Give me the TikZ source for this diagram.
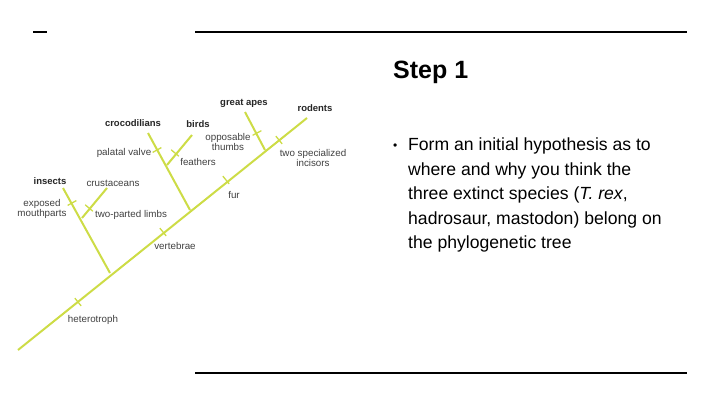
\documentclass[tikz,border=0pt]{standalone}
\usepackage{fontspec}
\setmainfont{Liberation Sans}
\begin{document}
\begin{tikzpicture}[x=1pt,y=-1pt,
  lab/.style={font=\fontsize{9.8}{10.5}\selectfont,text=black!75,inner sep=0pt,align=center},
  blab/.style={lab,font=\fontsize{9.5}{10}\selectfont\bfseries,text=black!85},
  rule/.style={draw=black,line width=2.5pt}]
\definecolor{lg}{RGB}{205,220,70}
\tikzset{br/.style={draw=lg,line width=2pt}}
\useasboundingbox (0,0) rectangle (720,405);
\coordinate (r0) at (18,350); \coordinate (r1) at (307,118);
\coordinate (ib) at (110,273); \coordinate (ie) at (63,188);
\coordinate (cb) at (82,218); \coordinate (ce) at (107,188);
\coordinate (kb) at (190,210); \coordinate (ke) at (148,133);
\coordinate (bb) at (167,165); \coordinate (be) at (192,135);
\coordinate (gb) at (265,150); \coordinate (ge) at (245,112);
\draw[br] (r0) -- (r1);
\draw[br] (ib) -- (ie); \draw[br] (cb) -- (ce);
\draw[br] (kb) -- (ke); \draw[br] (bb) -- (be);
\draw[br] (gb) -- (ge);
% ticks
\foreach \p/\a in {{(78,302)}/51,{(163,232)}/51,{(226,180)}/51,{(279,140)}/51,
  {(257,133)}/-28,{(175,153)}/40,{(157,150)}/-29,{(72,203)}/-29,{(89,208)}/40}
  {\draw[br,line width=1.3pt] \p ++(\a:-5) -- ++(\a:10);}
\node[lab] (h) at (93,320) {heterotroph};
\node[lab] (v) at (175,246) {vertebrae};
\node[lab] (f) at (234,195) {fur};
\node[lab] (ti) at (313,158) {two specialized\\incisors};
\node[lab] (ot) at (228,142) {opposable\\thumbs};
\node[lab] (fe) at (198,162) {feathers};
\node[lab] (pv) at (124,153) {palatal valve};
\node[lab] (em) at (42,209) {exposed\\mouthparts};
\node[lab] (tl) at (131,215) {two-parted limbs};
\node[lab] (cr) at (113,183) {crustaceans};
\node[blab] (in) at (50,181) {insects};
\node[blab] (cc) at (133,123) {crocodilians};
\node[blab] (bi) at (198,124) {birds};
\node[blab] (ga) at (244,103) {great apes};
\node[blab] (ro) at (315,108) {rodents};
% slide parts
\draw[rule] (195,32) -- (687,32);
\draw[rule] (195,373) -- (687,373);
\draw[line width=2pt] (33,32) -- (47,32);
\node[anchor=west,inner sep=0pt,font=\fontsize{25}{28}\selectfont\bfseries] (st) at (393,72) {Step 1};
\node[anchor=west,inner sep=0pt,font=\fontsize{12}{12}\selectfont] (bu) at (393,147) {\textbullet};
\node[anchor=north west,inner sep=0pt,align=left,font=\fontsize{17.6}{24.5}\selectfont] (tx) at (408,138)
 {Form an initial hypothesis as to\\where and why you think the\\three extinct species (\textit{T. rex},\\hadrosaur, mastodon) belong on\\the phylogenetic tree};
\end{tikzpicture}
\end{document}
